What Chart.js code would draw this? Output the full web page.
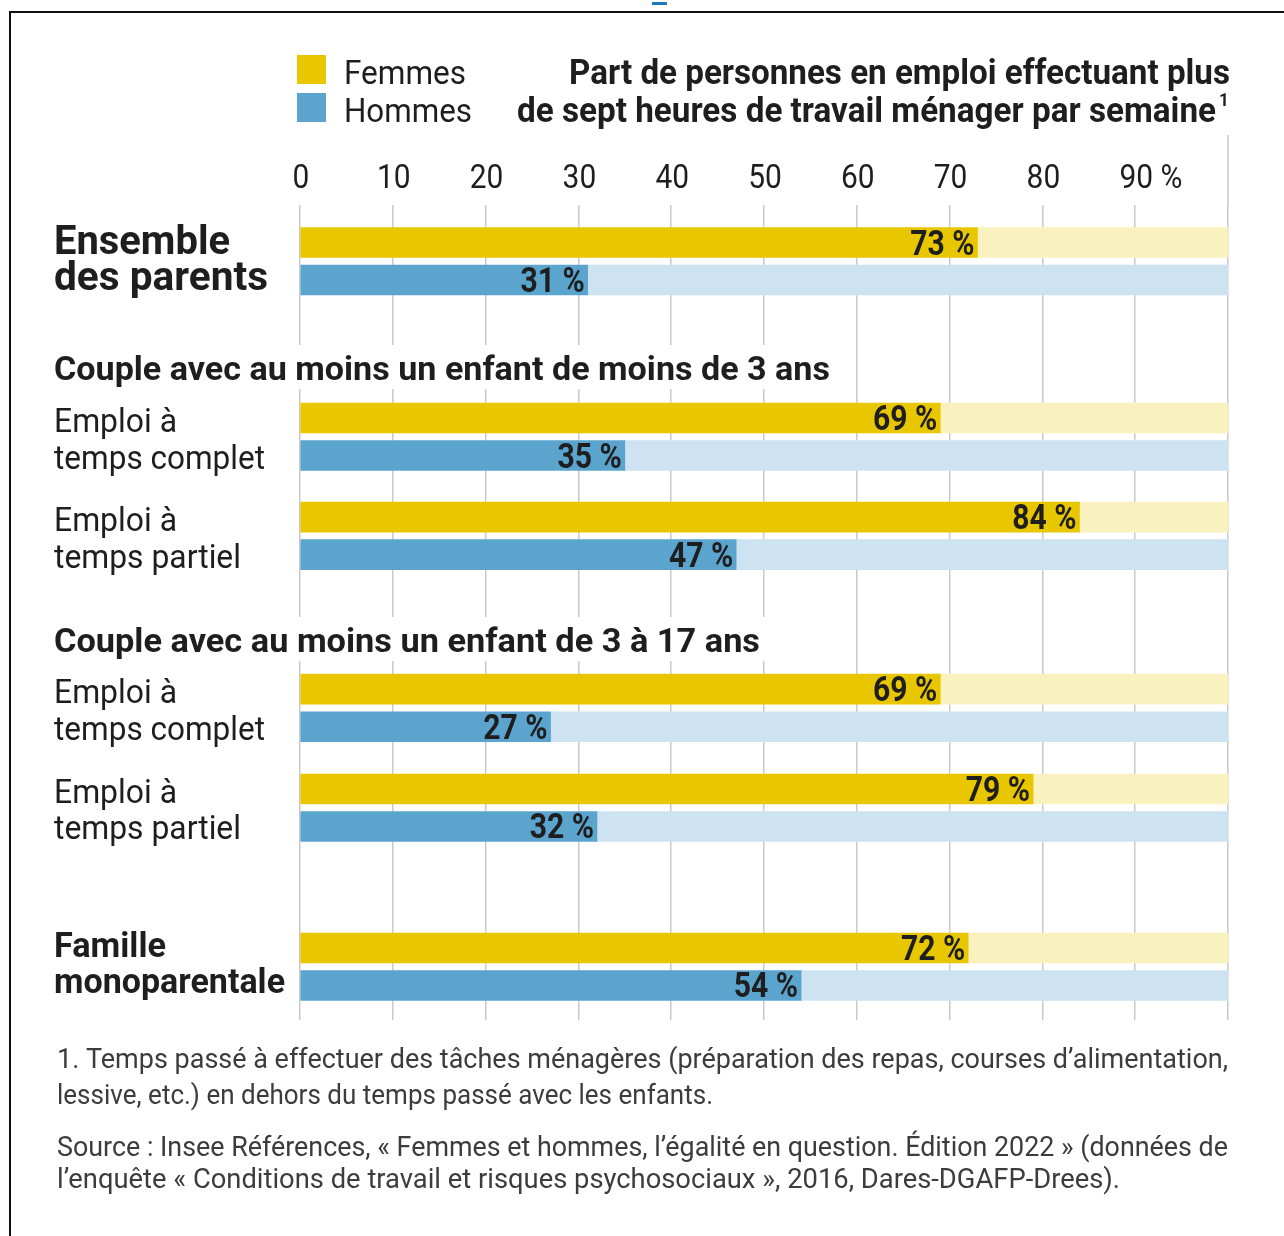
<!DOCTYPE html>
<html lang="fr">
<head>
<meta charset="utf-8">
<script src="https://cdn.jsdelivr.net/npm/chart.js@4.4.1/dist/chart.umd.min.js"></script>
<style>
  html, body { margin: 0; background: #fff; }
  #wrap { width: 1284px; height: 1236px; position: relative; }
</style>
</head>
<body>
<div id="wrap"><canvas id="chart"></canvas></div>
<script>
// data
const categories = [
  ['Ensemble', 'des parents'],
  ['Emploi à', 'temps complet'],
  ['Emploi à', 'temps partiel'],
  ['Emploi à', 'temps complet'],
  ['Emploi à', 'temps partiel'],
  ['Famille', 'monoparentale']
];
const femmes = [73, 69, 84, 69, 79, 72];
const hommes = [31, 35, 47, 27, 32, 54];
const sections = [
  'Couple avec au moins un enfant de moins de 3 ans',
  'Couple avec au moins un enfant de 3 à 17 ans'
];
const tickValues = [0, 10, 20, 30, 40, 50, 60, 70, 80, 90];
const tickLabels = ['0', '10', '20', '30', '40', '50', '60', '70', '80', '90 %'];
const seriesNames = ['Femmes', 'Hommes'];

// layout (in bar-pitch units down the y scale)
const rowPos = [1, 5.68, 8.32, 12.91, 15.57, 19.81];
const sectionPos = [4.32, 11.57];
const boldRow = [true, false, false, false, false, true];

const YELLOW = '#e8c700', YELLOW_L = '#faf2be';
const BLUE = '#5ba4ce', BLUE_L = '#cee3f1';
const INK = '#1e1e1e', GREY = '#3c3c3c';
const FF = 'Roboto, "Liberation Sans", sans-serif';

function txt(ctx, s, x, y, font, color, opt) {
  opt = opt || {};
  ctx.save();
  ctx.font = font;
  ctx.fillStyle = color;
  const m = ctx.measureText(s).width;
  const sx = opt.w ? opt.w / m : (opt.sx || 0.9);
  const align = opt.align || 'left';
  const left = align === 'left' ? x : align === 'right' ? x - m * sx : x - m * sx / 2;
  ctx.translate(left, y);
  ctx.scale(sx, 1);
  ctx.textAlign = 'left';
  ctx.textBaseline = 'alphabetic';
  ctx.fillText(s, 0, 0);
  ctx.restore();
  return { left: left, width: m * sx };
}

const decor = {
  id: 'decor',
  beforeDraw(chart) {
    const ctx = chart.ctx;
    ctx.save();
    ctx.fillStyle = '#fff';
    ctx.fillRect(0, 0, chart.width, chart.height);
    ctx.strokeStyle = '#111';
    ctx.lineWidth = 2;
    ctx.beginPath();
    ctx.moveTo(10, chart.height);
    ctx.lineTo(10, 12);
    ctx.lineTo(chart.width, 12);
    ctx.stroke();
    ctx.fillStyle = '#1a7ac0';
    ctx.fillRect(652, 2, 15, 3);
    ctx.restore();
  },
  beforeDatasetsDraw(chart) {
    const ctx = chart.ctx, x = chart.scales.x;
    const px = x.getPixelForValue(100);
    ctx.save();
    ctx.strokeStyle = '#c9c9c9';
    ctx.lineWidth = 1.5;
    ctx.beginPath();
    ctx.moveTo(px, 135);
    ctx.lineTo(px, chart.chartArea.top);
    ctx.stroke();
    ctx.restore();
  },
  afterDraw(chart) {
    const ctx = chart.ctx, x = chart.scales.x, y = chart.scales.y;

    // legend
    [YELLOW, BLUE].forEach((c, i) => {
      ctx.fillStyle = c;
      ctx.fillRect(297, 55 + i * 38, 29, 29);
      txt(ctx, seriesNames[i], 344, 84 + i * 38, '34px ' + FF, INK, { w: i ? 128 : 122 });
    });

    // title
    txt(ctx, 'Part de personnes en emploi effectuant plus', 1230, 84, 'bold 35px ' + FF, INK, { align: 'right', w: 661 });
    txt(ctx, 'de sept heures de travail ménager par semaine', 1216, 122, 'bold 35px ' + FF, INK, { align: 'right', w: 699 });
    txt(ctx, '1', 1219, 106, 'bold 19px ' + FF, INK, { sx: 0.9 });

    // top ticks
    tickValues.forEach((v, i) => {
      const parts = tickLabels[i].split(' ');
      const px = x.getPixelForValue(v);
      const r = txt(ctx, parts[0], px + 1, 188, '34px ' + FF, INK, { align: 'center', sx: 0.88 });
      if (parts[1]) txt(ctx, ' ' + parts[1], r.left + r.width, 188, '34px ' + FF, INK, { sx: 0.88 });
    });

    // section headers with white box over the grid
    sections.forEach((s, i) => {
      const cy = y.getPixelForValue(sectionPos[i]);
      const w = i ? 706 : 776;
      ctx.fillStyle = '#fff';
      ctx.fillRect(48, cy - 22, w + 14, 44);
      txt(ctx, s, 54, cy + 13, 'bold 34px ' + FF, INK, { w: w });
    });

    // row labels
    const rowW = [[176, 214], [123, 211], [123, 187], [123, 211], [123, 187], [112, 231]];
    categories.forEach((lines, i) => {
      const yf = y.getPixelForValue(rowPos[i]);
      const yh = y.getPixelForValue(rowPos[i] + 1);
      let font = '34px ' + FF, o1 = 14, o2 = 13;
      if (i === 0) { font = 'bold 40px ' + FF; o1 = 11; o2 = 10; }
      else if (boldRow[i]) { font = 'bold 35px ' + FF; o1 = 9; o2 = 8; }
      txt(ctx, lines[0], 54, yf + o1, font, INK, { w: rowW[i][0] });
      txt(ctx, lines[1], 54, yh + o2, font, INK, { w: rowW[i][1] });
    });

    // value labels at bar ends
    [0, 1].forEach(d => {
      chart.getDatasetMeta(d).data.forEach((el, i) => {
        const v = (d ? hommes : femmes)[i];
        txt(ctx, v + ' %', el.x - 3, el.y + 12, 'bold 35px ' + FF, INK, { align: 'right', sx: 0.86 });
      });
    });

    // notes
    const nf = '28px ' + FF;
    txt(ctx, '1. Temps passé à effectuer des tâches ménagères (préparation des repas, courses d’alimentation,', 57, 1068, nf, GREY, { w: 1171 });
    txt(ctx, 'lessive, etc.) en dehors du temps passé avec les enfants.', 57, 1104, nf, GREY, { w: 656 });
    txt(ctx, 'Source : Insee Références, « Femmes et hommes, l’égalité en question. Édition 2022 » (données de', 57, 1156, nf, GREY, { w: 1171 });
    txt(ctx, 'l’enquête « Conditions de travail et risques psychosociaux », 2016, Dares-DGAFP-Drees).', 57, 1188, nf, GREY, { w: 1063 });
  }
};

const ctx = document.getElementById('chart').getContext('2d');
new Chart(ctx, {
  type: 'bar',
  data: {
    datasets: [
      { label: seriesNames[0], data: femmes.map((v, i) => ({ x: v, y: rowPos[i] })), backgroundColor: YELLOW, order: 1 },
      { label: seriesNames[1], data: hommes.map((v, i) => ({ x: v, y: rowPos[i] + 1 })), backgroundColor: BLUE, order: 1 },
      { label: 'rest F', data: femmes.map((v, i) => ({ x: [v, 100], y: rowPos[i] })), backgroundColor: YELLOW_L, order: 2 },
      { label: 'rest H', data: hommes.map((v, i) => ({ x: [v, 100], y: rowPos[i] + 1 })), backgroundColor: BLUE_L, order: 2 }
    ]
  },
  options: {
    indexAxis: 'y',
    responsive: true,
    maintainAspectRatio: false,
    animation: false,
    events: [],
    grouped: false,
    barThickness: 30,
    layout: { padding: { left: 300, right: 56, top: 205, bottom: 216 } },
    scales: {
      x: {
        type: 'linear', min: 0, max: 100,
        ticks: { display: false, stepSize: 10 },
        grid: { color: '#c9c9c9', lineWidth: 1.5, drawTicks: false },
        border: { display: false }
      },
      y: {
        type: 'linear', min: 0, max: 21.73, reverse: true,
        offset: false,
        display: false
      }
    },
    plugins: { legend: { display: false }, tooltip: { enabled: false } }
  },
  plugins: [decor]
});
</script>
</body>
</html>
